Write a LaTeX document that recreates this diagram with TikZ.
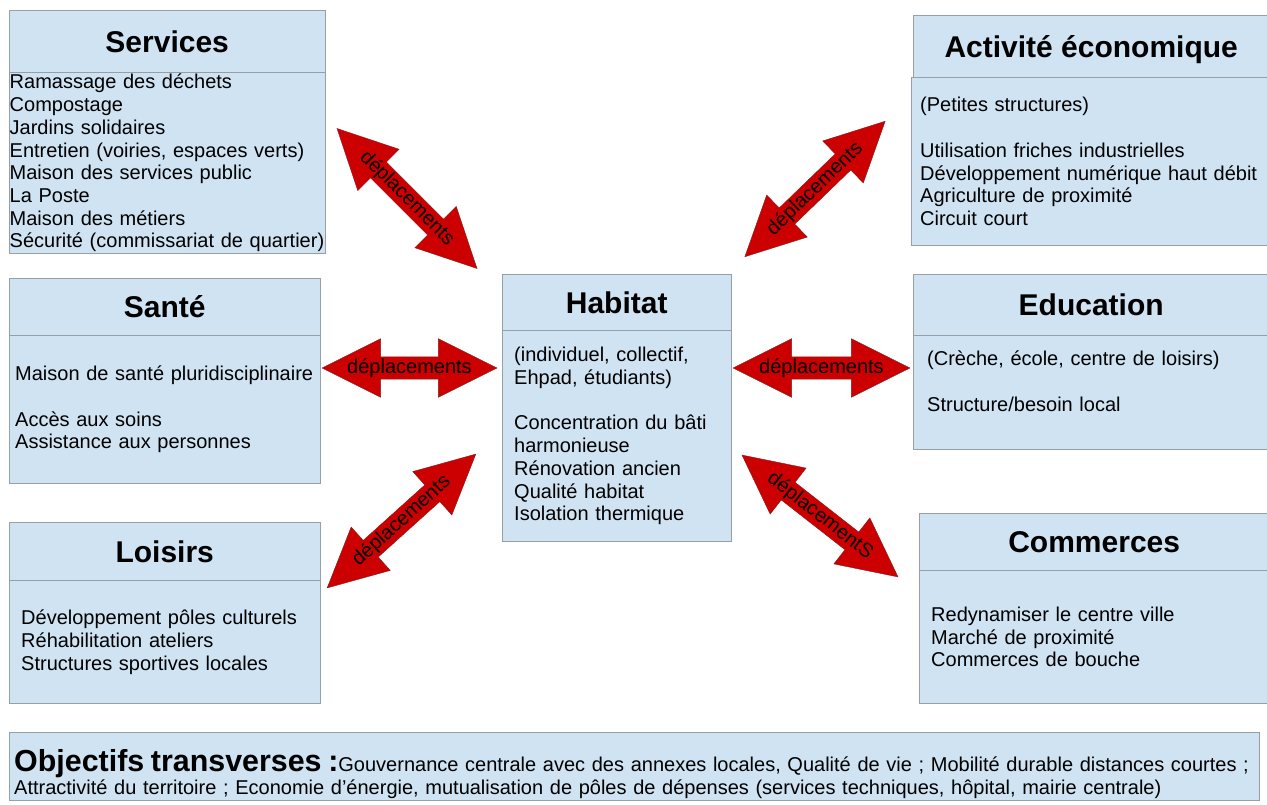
\documentclass[tikz,border=0pt]{standalone}
\usepackage{fontspec}
\setmainfont{Liberation Sans}
\usepackage{tikz}
\usetikzlibrary{shapes.arrows}
\definecolor{boxfill}{RGB}{207,227,242}
\definecolor{boxline}{RGB}{150,158,166}
\definecolor{flecherouge}{RGB}{204,0,0}
\definecolor{flecheborde}{RGB}{130,30,30}

\begin{document}
\begin{tikzpicture}[x=1pt, y=-1pt, thin,
     titre/.style = {shape=rectangle, draw=boxline, fill=boxfill, anchor=north west,
         inner sep=0pt, text height=22pt, text depth=0pt,
         font=\fontsize{30}{34}\selectfont\bfseries},
     liste/.style = {shape=rectangle, draw=boxline, fill=boxfill, anchor=north west,
         inner ysep=0pt, align=left, font=\fontsize{20}{22.7}\selectfont},
     fleche/.style = {shape=double arrow, fill=flecherouge, draw=flecheborde,
         inner xsep=0pt, inner ysep=11pt, double arrow head extend=18pt,
         double arrow tip angle=53},
     mot/.style = {inner sep=0pt, font=\fontsize{20}{22}\selectfont}]
        \useasboundingbox (0,0) rectangle (1267,805);

        \node [titre, minimum width=316pt, minimum height=62pt] (services) at (9,10) {Services};
        \node [liste, text width=315pt, inner xsep=0.5pt, minimum height=181pt] (servicesListe) at (services.south west)
            {Ramassage des déchets\\ Compostage\\ Jardins solidaires\\ Entretien (voiries, espaces verts)\\
             Maison des services public\\ La Poste\\ Maison des métiers\\ \mbox{Sécurité (commissariat de quartier)}};

        \node [titre, minimum width=311pt, minimum height=57pt] (sante) at (9,278) {Santé};
        \node [liste, text width=299pt, inner xsep=6pt, minimum height=148pt] (santeListe) at (sante.south west)
            {Maison de santé pluridisciplinaire\\[22.7pt] Accès aux soins\\ Assistance aux personnes};

        \node [titre, minimum width=311pt, minimum height=58pt] (loisirs) at (9,522) {Loisirs};
        \node [liste, text width=287pt, inner xsep=12pt, minimum height=123pt] (loisirsListe) at (loisirs.south west)
            {Développement pôles culturels\\ Réhabilitation ateliers\\ Structures sportives locales};

        \node [titre, minimum width=229pt, minimum height=56pt] (habitat) at (502,274) {Habitat};
        \node [liste, text width=205pt, inner xsep=12pt, minimum height=211pt] (habitatListe) at (habitat.south west)
            {(individuel, collectif,\\ Ehpad, étudiants)\\[22.7pt] Concentration du bâti\\ harmonieuse\\
             Rénovation ancien\\ Qualité habitat\\ Isolation thermique};

        \node [titre, minimum width=356pt, minimum height=62pt] (activite) at (913,15) {Activité économique};
        \node [liste, text width=372pt, inner xsep=9pt, minimum height=168pt] (activiteListe) at ([xshift=-2pt]activite.south west)
            {(Petites structures)\\[22.7pt] Utilisation friches industrielles\\ Développement numérique haut débit\\
             Agriculture de proximité\\ Circuit court};

        \node [titre, minimum width=356pt, minimum height=61pt] (education) at (913,274) {Education};
        \node [liste, text width=362pt, inner xsep=14pt, minimum height=114pt] (educationListe) at (education.south west)
            {(Crèche, école, centre de loisirs)\\[22.7pt] Structure/besoin local\\ \mbox{}};

        \node [titre, minimum width=350pt, minimum height=57pt] (commerces) at (919,513) {Commerces};
        \node [liste, text width=366pt, inner xsep=12pt, minimum height=133pt] (commercesListe) at (commerces.south west)
            {Redynamiser le centre ville\\ Marché de proximité\\ Commerces de bouche};

        \node [liste, text width=1240pt, inner xsep=5pt, minimum height=68pt, font=\fontsize{20}{22.9}\selectfont] (objectifs) at (9,732)
            {\mbox{\rule{0pt}{37pt}{\fontsize{30.4}{34}\selectfont\bfseries Objectifs transverses :}Gouvernance centrale avec des annexes locales, Qualité de vie ; Mobilité durable distances courtes ;}\\
             Attractivité du territoire ; Economie d’énergie, mutualisation de pôles de dépenses (services techniques, hôpital, mairie centrale)};

        \node [fleche, minimum height=198pt, rotate=-45] (flecheServices) at (407,198.5) {};
        \node [mot, rotate=-45] (motServices) at (flecheServices) {déplacements};
        \node [fleche, minimum height=175pt] (flecheSante) at (409.5,368) {};
        \node [mot] (motSante) at (flecheSante) {déplacements};
        \node [fleche, minimum height=200pt, rotate=42] (flecheLoisirs) at (401.5,521) {};
        \node [mot, rotate=42] (motLoisirs) at (flecheLoisirs) {déplacements};
        \node [fleche, minimum height=195pt, rotate=44] (flecheActivite) at (815,189) {};
        \node [mot, rotate=44] (motActivite) at (flecheActivite) {déplacements};
        \node [fleche, minimum height=177pt] (flecheEducation) at (821.5,368) {};
        \node [mot] (motEducation) at (flecheEducation) {déplacements};
        \node [fleche, minimum height=198pt, rotate=-38] (flecheCommerces) at (820,516) {};
        \node [mot, rotate=-38] (motCommerces) at (flecheCommerces) {déplacementS};
\end{tikzpicture}
\end{document}
